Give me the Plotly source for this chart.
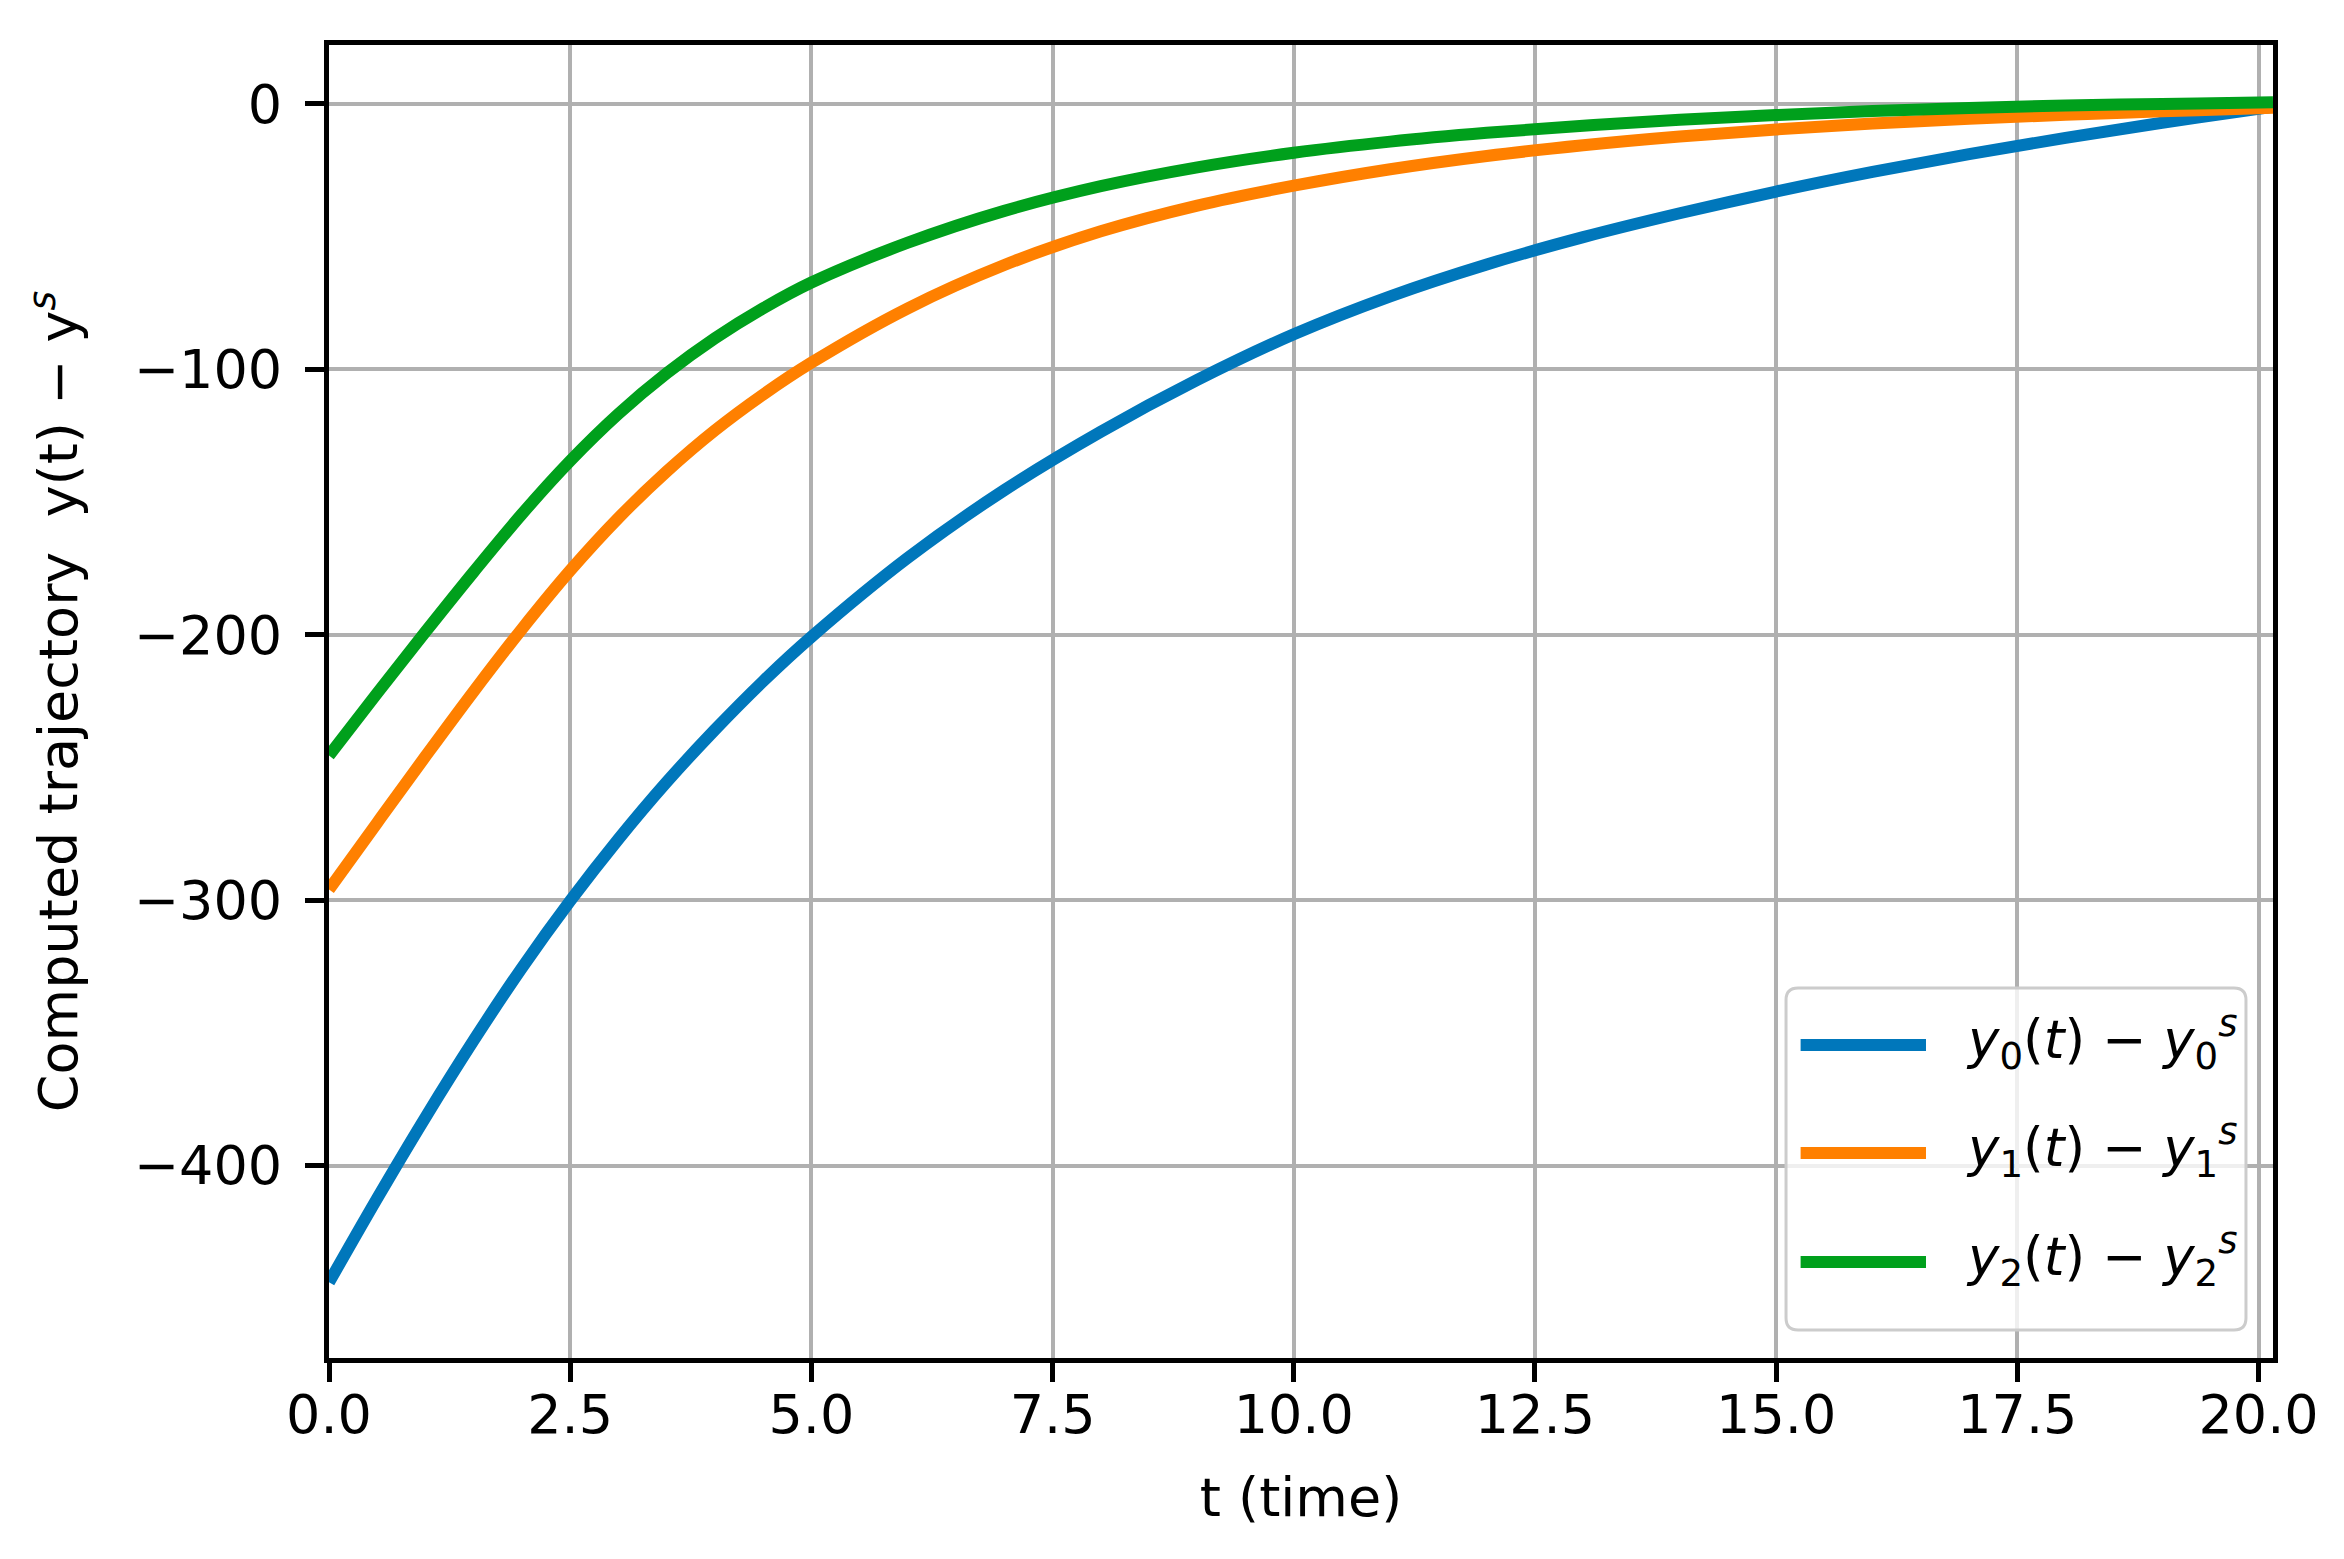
import plotly.graph_objects as go

# time grid and deviation trajectories
t = [0, 0.5, 1, 1.5, 2, 2.5, 3, 3.5, 4, 4.5, 5,
     6, 7, 8, 9, 10, 11, 12, 13, 14, 15, 16, 17, 18, 19, 20, 20.15]
y0_dev = [-444, -412.3, -381.8, -352.8, -325.5, -300.3, -277, -255.5, -235.8, -217.5, -200.8,
          -171, -145.5, -123.5, -104, -86.8, -72.5, -60.5, -50.2, -41.2, -33,
          -25.6, -18.9, -12.8, -7.1, -1.8, -1.0]
y1_dev = [-296, -270.8, -245.8, -221.3, -197.8, -175.8, -156, -138.5, -123, -109.5, -97.5,
          -77, -60.7, -48, -38.3, -30.8, -24.6, -19.6, -15.6, -12.3, -9.6,
          -7.4, -5.6, -4.1, -2.8, -1.6, -1.4]
y2_dev = [-245.5, -222, -198.9, -176.3, -154.5, -134.5, -116.8, -101.5, -88.3, -77, -67.3,
          -52.3, -40.3, -31, -23.9, -18.4, -14.2, -10.9, -8.2, -6, -4.2,
          -2.7, -1.5, -0.6, 0, 0.5, 0.6]

series = [y0_dev, y1_dev, y2_dev]
names = ["<i>y</i><sub>0</sub>(<i>t</i>) − <i>y</i><sub>0</sub><sup><i>s</i></sup>",
         "<i>y</i><sub>1</sub>(<i>t</i>) − <i>y</i><sub>1</sub><sup><i>s</i></sup>",
         "<i>y</i><sub>2</sub>(<i>t</i>) − <i>y</i><sub>2</sub><sup><i>s</i></sup>"]
colors = ["#0077bb", "#ff8000", "#00a01c"]

x_ticks = [0, 2.5, 5, 7.5, 10, 12.5, 15, 17.5, 20]
y_ticks = [0, -100, -200, -300, -400]
y_tick_text = ["0", "−100", "−200", "−300", "−400"]

# the page body keeps its default 8px margin, so the figure is 16px smaller
W, H = 2328, 1543
L, R, T, B = 321, 63, 37, 193
FONT = "DejaVu Sans"

fig = go.Figure()
for ys, nm, c in zip(series, names, colors):
    fig.add_trace(go.Scatter(x=t, y=ys, mode="lines", name=nm,
                             line=dict(color=c, width=12, shape="spline", smoothing=1.0),
                             showlegend=False))

# hand made legend box (lower right, like matplotlib's)
bx0, bx1, by0, by1 = 0.7495, 0.9861, 0.0213, 0.2818
rx, ry = 12 / (W - L - R), 12 / (H - T - B)
box = (f"M{bx0+rx},{by0} L{bx1-rx},{by0} Q{bx1},{by0} {bx1},{by0+ry} "
       f"L{bx1},{by1-ry} Q{bx1},{by1} {bx1-rx},{by1} L{bx0+rx},{by1} "
       f"Q{bx0},{by1} {bx0},{by1-ry} L{bx0},{by0+ry} Q{bx0},{by0} {bx0+rx},{by0} Z")
fig.add_shape(type="path", path=box, xref="x domain", yref="y domain",
              line=dict(color="#cccccc", width=3), fillcolor="rgba(255,255,255,0.8)",
              layer="above")
legend_y = [0.2384, 0.1561, 0.0731]
for ly, nm, c in zip(legend_y, names, colors):
    fig.add_shape(type="line", xref="x domain", yref="y domain",
                  x0=0.757, x1=0.8215, y0=ly, y1=ly,
                  line=dict(color=c, width=12), layer="above")
    fig.add_annotation(x=0.841, y=ly + 0.004, xref="x domain", yref="y domain",
                       text=nm, showarrow=False, xanchor="left", yanchor="middle",
                       font=dict(family=FONT, size=53, color="black"))

axis_common = dict(showgrid=True, gridcolor="#b0b0b0", gridwidth=4,
                   showline=True, linecolor="black", linewidth=5, mirror=True,
                   ticks="outside", ticklen=19, tickwidth=4.5, tickcolor="black",
                   zeroline=False, tickfont=dict(family=FONT, size=54, color="black"))

fig.update_xaxes(range=[0, 20.15], tickvals=x_ticks, tickformat=".1f",
                 ticklabelstandoff=-14,
                 title=dict(text="t (time)", standoff=35,
                            font=dict(family=FONT, size=54, color="black")),
                 **axis_common)
fig.update_yaxes(range=[-472.5, 22.2], tickvals=y_ticks, ticktext=y_tick_text,
                 ticklabelstandoff=12,
                 title=dict(text="Computed trajectory  y(t) − y<sup><i>s</i></sup>",
                            standoff=40, font=dict(family=FONT, size=54, color="black")),
                 **axis_common)

fig.update_layout(width=W, height=H, margin=dict(l=L, r=R, t=T, b=B, autoexpand=False),
                  plot_bgcolor="white", paper_bgcolor="white",
                  font=dict(family=FONT, size=54, color="black"))

fig.write_html("out.html")
